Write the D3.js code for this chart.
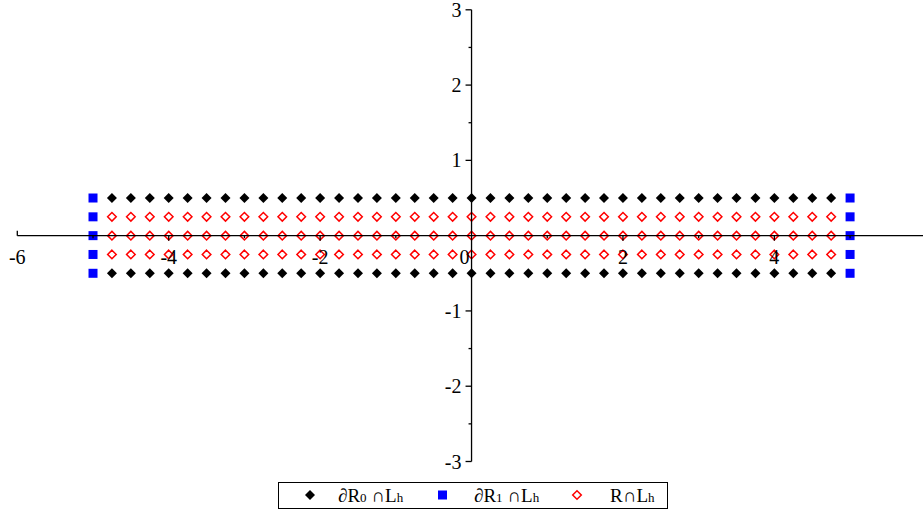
<!DOCTYPE html>
<html>
<head>
<meta charset="utf-8">
<script src="https://cdn.jsdelivr.net/npm/d3@7"></script>
<style>
  body { margin: 0; background: #fff; }
  svg text { font-family: "Liberation Serif", "DejaVu Serif", serif; }
</style>
</head>
<body>
<div id="chart"></div>
<script>
// values
const interiorX = [-4.75, -4.5, -4.25, -4, -3.75, -3.5, -3.25, -3, -2.75, -2.5, -2.25, -2, -1.75, -1.5, -1.25, -1,
  -0.75, -0.5, -0.25, 0, 0.25, 0.5, 0.75, 1, 1.25, 1.5, 1.75, 2, 2.25, 2.5, 2.75, 3, 3.25, 3.5, 3.75, 4, 4.25, 4.5, 4.75];
const boundary0Y = [0.5, -0.5];           // black diamonds rows
const boundary1X = [-5, 5];               // blue squares columns
const boundary1Y = [0.5, 0.25, 0, -0.25, -0.5];
const interiorY = [0.25, 0, -0.25];       // red open diamonds rows
const xTicks = [-6, -4, -2, 0, 2, 4];
const xMinor = [-5, -3, -1, 1, 3, 5];
const yTicks = [-3, -2, -1, 1, 2, 3];
const yMinor = [-2.5, -1.5, -0.5, 0.5, 1.5, 2.5];

const width = 923, height = 510;
const svg = d3.select("#chart").append("svg")
  .attr("width", width).attr("height", height);

const x = d3.scaleLinear().domain([-6, 5.95]).range([17.3, 922]);
const y = d3.scaleLinear().domain([-3, 3]).range([461.5, 9.8]);
const x0 = x(0), y0 = y(0);

// points
const black = [], blue = [], red = [];
boundary0Y.forEach(v => interiorX.forEach(u => black.push([u, v])));
boundary1X.forEach(u => boundary1Y.forEach(v => blue.push([u, v])));
interiorY.forEach(v => interiorX.forEach(u => red.push([u, v])));

const diamond = s => `M0,${-s}L${s},0L0,${s}L${-s},0Z`;

const marks = svg.append("g");
marks.selectAll(".red").data(red).enter().append("path")
  .attr("d", diamond(4.3))
  .attr("transform", d => `translate(${x(d[0])},${y(d[1])})`)
  .attr("fill", "none").attr("stroke", "#ff0000").attr("stroke-width", 1.5);
marks.selectAll(".black").data(black).enter().append("path")
  .attr("d", diamond(5))
  .attr("transform", d => `translate(${x(d[0])},${y(d[1])})`)
  .attr("fill", "#000");
marks.selectAll(".blue").data(blue).enter().append("rect")
  .attr("x", d => x(d[0]) - 4.5).attr("y", d => y(d[1]) - 4.5)
  .attr("width", 9).attr("height", 9)
  .attr("fill", "#0000ff");

// axes
const ax = svg.append("g").attr("stroke", "#000").attr("stroke-width", 1.3);
ax.append("line").attr("x1", x(-6)).attr("x2", width).attr("y1", y0).attr("y2", y0);
ax.append("line").attr("x1", x0).attr("x2", x0).attr("y1", y(3)).attr("y2", y(-3));
// x ticks
ax.selectAll(".xt").data(xTicks.filter(d => d !== 0)).enter().append("line")
  .attr("x1", d => x(d)).attr("x2", d => x(d))
  .attr("y1", y0).attr("y2", d => d === -6 ? y0 - 5 : y0 + 5);
ax.selectAll(".xm").data(xMinor).enter().append("line")
  .attr("x1", d => x(d)).attr("x2", d => x(d))
  .attr("y1", y0).attr("y2", y0 + 2.5);
// y ticks
ax.selectAll(".yt").data(yTicks).enter().append("line")
  .attr("x1", x0 - 6).attr("x2", x0)
  .attr("y1", d => y(d)).attr("y2", d => y(d));
ax.selectAll(".ym").data(yMinor).enter().append("line")
  .attr("x1", x0 - 3).attr("x2", x0)
  .attr("y1", d => y(d)).attr("y2", d => y(d));

const lab = svg.append("g").attr("fill", "#000");
lab.selectAll(".xl").data(xTicks).enter().append("text")
  .attr("font-size", 20)
  .attr("x", d => d === 0 ? x0 - 7 : x(d))
  .attr("y", y0 + 28)
  .attr("text-anchor", "middle")
  .text(d => d < 0 ? "-" + Math.abs(d) : d);
lab.selectAll(".yl").data(yTicks).enter().append("text")
  .attr("font-size", 20)
  .attr("x", x0 - 10)
  .attr("y", d => y(d) + 7)
  .attr("text-anchor", "end")
  .text(d => d < 0 ? "-" + Math.abs(d) : d);

// legend
const lg = svg.append("g");
lg.append("rect").attr("x", 278.5).attr("y", 482.5).attr("width", 389).attr("height", 26)
  .attr("fill", "#fff").attr("stroke", "#000").attr("stroke-width", 1);
const ly = 495;
lg.append("path").attr("d", diamond(5)).attr("transform", `translate(310,${ly})`).attr("fill", "#000");
lg.append("rect").attr("x", 438).attr("y", ly - 4.5).attr("width", 9).attr("height", 9).attr("fill", "#0000ff");
lg.append("path").attr("d", diamond(4.3)).attr("transform", `translate(577,${ly})`)
  .attr("fill", "none").attr("stroke", "#ff0000").attr("stroke-width", 1.5);

const legendText = [
  {x: 338, parts: [["∂R", 19], ["0", 13], [" ∩L", 19], ["h", 13]]},
  {x: 474, parts: [["∂R", 19], ["1", 13], [" ∩L", 19], ["h", 13]]},
  {x: 610, parts: [["R∩L", 19], ["h", 13]]}
];
legendText.forEach(t => {
  const tx = lg.append("text").attr("x", t.x).attr("y", ly + 7);
  t.parts.forEach(p => tx.append("tspan").attr("font-size", p[1]).text(p[0]));
});
</script>
</body>
</html>
